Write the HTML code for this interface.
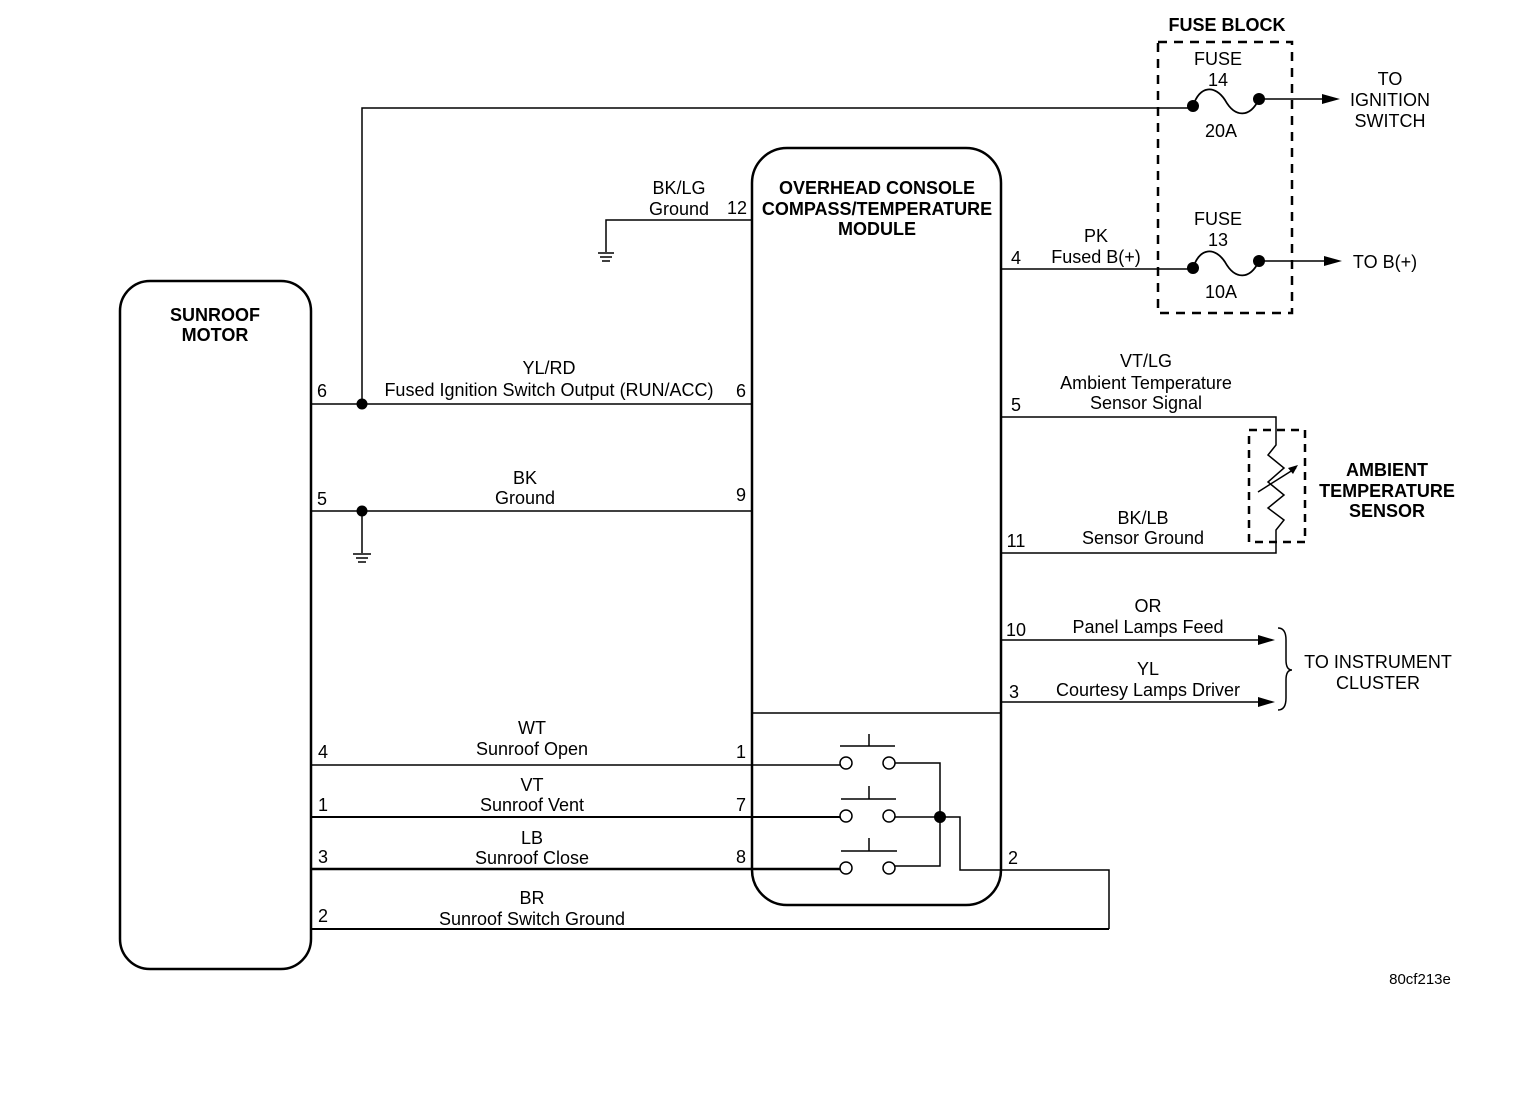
<!DOCTYPE html>
<html><head><style>
html,body{margin:0;padding:0;background:#fff;}
svg{display:block;}
text{font-family:"Liberation Sans",Arial,sans-serif;font-size:18px;fill:#000;}
.b{font-weight:bold;}
</style></head><body>
<svg width="1520" height="1098" viewBox="0 0 1520 1098" xmlns="http://www.w3.org/2000/svg">
<g fill="none" stroke="#000">
<rect x="120" y="281" width="191" height="688" rx="30" stroke-width="2.5"/>
<rect x="752" y="148" width="249" height="757" rx="35" stroke-width="2.5"/>
<line x1="752" y1="713" x2="1001" y2="713" stroke-width="1.5"/>
<rect x="1158" y="42" width="134" height="271" stroke-width="2.5" stroke-dasharray="9,7"/>
<polyline points="362,404 362,108 1193,108" stroke-width="1.5"/>
<path d="M1193,106 C1200,85 1215,85 1225,100 C1235,118 1250,118 1259,99" stroke-width="1.8"/>
<line x1="1259" y1="99" x2="1325" y2="99" stroke-width="1.5"/>
<line x1="1001" y1="269" x2="1193" y2="269" stroke-width="1.5"/>
<path d="M1193,268 C1200,247 1215,247 1225,262 C1235,280 1250,280 1259,261" stroke-width="1.8"/>
<line x1="1259" y1="261" x2="1327" y2="261" stroke-width="1.5"/>
<polyline points="752,220 606,220 606,252" stroke-width="1.5"/>
<line x1="598" y1="253" x2="614" y2="253" stroke-width="1.5"/>
<line x1="600" y1="257" x2="612" y2="257" stroke-width="1.5"/>
<line x1="602" y1="261" x2="610" y2="261" stroke-width="1.5"/>
<line x1="311" y1="404" x2="752" y2="404" stroke-width="1.5"/>
<line x1="311" y1="511" x2="752" y2="511" stroke-width="1.5"/>
<line x1="362" y1="511" x2="362" y2="553" stroke-width="1.5"/>
<line x1="353" y1="554" x2="371" y2="554" stroke-width="1.5"/>
<line x1="356" y1="558" x2="368" y2="558" stroke-width="1.5"/>
<line x1="358" y1="562" x2="366" y2="562" stroke-width="1.5"/>
<polyline points="1001,417 1276,417 1276,445 1268,455 1284,468 1268,482 1284,495 1268,508 1284,520 1276,530 1276,553 1001,553" stroke-width="1.5"/>
<line x1="1258" y1="492" x2="1296" y2="468" stroke-width="1.5"/>
<rect x="1249" y="430" width="56" height="112" stroke-width="2.5" stroke-dasharray="8,6"/>
<line x1="1001" y1="640" x2="1262" y2="640" stroke-width="1.5"/>
<line x1="1001" y1="702" x2="1262" y2="702" stroke-width="1.5"/>
<path d="M1278,628 Q1286,628 1286,640 L1286,660 Q1286,670 1292,670 Q1286,670 1286,680 L1286,698 Q1286,710 1278,710" stroke-width="1.5"/>
<line x1="311" y1="765" x2="840" y2="765" stroke-width="1.5"/>
<line x1="311" y1="817" x2="840" y2="817" stroke-width="2"/>
<line x1="311" y1="869" x2="840" y2="869" stroke-width="2.5"/>
<line x1="311" y1="929" x2="1109" y2="929" stroke-width="2"/>
<polyline points="1109,929 1109,870 960,870 960,817 940,817" stroke-width="1.5"/>
<polyline points="895,763 940,763 940,866 895,866" stroke-width="1.5"/>
<line x1="895" y1="817" x2="940" y2="817" stroke-width="1.5"/>
<g stroke-width="1.5">
<circle cx="846" cy="763" r="6" fill="#fff"/><circle cx="889" cy="763" r="6" fill="#fff"/>
<circle cx="846" cy="816" r="6" fill="#fff"/><circle cx="889" cy="816" r="6" fill="#fff"/>
<circle cx="846" cy="868" r="6" fill="#fff"/><circle cx="889" cy="868" r="6" fill="#fff"/>
<line x1="840" y1="746" x2="895" y2="746"/><line x1="869" y1="734" x2="869" y2="746"/>
<line x1="841" y1="799" x2="896" y2="799"/><line x1="869" y1="786" x2="869" y2="799"/>
<line x1="841" y1="851" x2="897" y2="851"/><line x1="869" y1="838" x2="869" y2="851"/>
</g>
</g>
<g fill="#000">
<circle cx="362" cy="404" r="5.5"/><circle cx="362" cy="511" r="5.5"/>
<circle cx="1193" cy="106" r="6"/><circle cx="1259" cy="99" r="6"/>
<circle cx="1193" cy="268" r="6"/><circle cx="1259" cy="261" r="6"/>
<circle cx="940" cy="817" r="6"/>
<polygon points="1340,99 1322,94 1322,104"/>
<polygon points="1342,261 1324,256 1324,266"/>
<polygon points="1275,640 1258,635 1258,645"/>
<polygon points="1275,702 1258,697 1258,707"/>
<polygon points="1298,465 1288,468 1293,474"/>
</g>
<text class="b" x="1227" y="31" text-anchor="middle">FUSE BLOCK</text>
<text x="1218" y="65" text-anchor="middle">FUSE</text>
<text x="1218" y="86" text-anchor="middle">14</text>
<text x="1221" y="137" text-anchor="middle">20A</text>
<text x="1218" y="225" text-anchor="middle">FUSE</text>
<text x="1218" y="246" text-anchor="middle">13</text>
<text x="1221" y="298" text-anchor="middle">10A</text>
<text x="1390" y="85" text-anchor="middle">TO</text>
<text x="1390" y="106" text-anchor="middle">IGNITION</text>
<text x="1390" y="127" text-anchor="middle">SWITCH</text>
<text x="1385" y="268" text-anchor="middle">TO B(+)</text>
<text class="b" x="877" y="194" text-anchor="middle">OVERHEAD CONSOLE</text>
<text class="b" x="877" y="215" text-anchor="middle">COMPASS/TEMPERATURE</text>
<text class="b" x="877" y="235" text-anchor="middle">MODULE</text>
<text class="b" x="215" y="321" text-anchor="middle">SUNROOF</text>
<text class="b" x="215" y="341" text-anchor="middle">MOTOR</text>
<text x="679" y="194" text-anchor="middle">BK/LG</text>
<text x="679" y="215" text-anchor="middle">Ground</text>
<text x="737" y="214" text-anchor="middle">12</text>
<text x="1096" y="242" text-anchor="middle">PK</text>
<text x="1096" y="263" text-anchor="middle">Fused B(+)</text>
<text x="1016" y="264" text-anchor="middle">4</text>
<text x="549" y="374" text-anchor="middle">YL/RD</text>
<text x="549" y="396" text-anchor="middle">Fused Ignition Switch Output (RUN/ACC)</text>
<text x="322" y="397" text-anchor="middle">6</text>
<text x="741" y="397" text-anchor="middle">6</text>
<text x="525" y="484" text-anchor="middle">BK</text>
<text x="525" y="504" text-anchor="middle">Ground</text>
<text x="322" y="505" text-anchor="middle">5</text>
<text x="741" y="501" text-anchor="middle">9</text>
<text x="1146" y="367" text-anchor="middle">VT/LG</text>
<text x="1146" y="389" text-anchor="middle">Ambient Temperature</text>
<text x="1146" y="409" text-anchor="middle">Sensor Signal</text>
<text x="1016" y="411" text-anchor="middle">5</text>
<text class="b" x="1387" y="476" text-anchor="middle">AMBIENT</text>
<text class="b" x="1387" y="497" text-anchor="middle">TEMPERATURE</text>
<text class="b" x="1387" y="517" text-anchor="middle">SENSOR</text>
<text x="1143" y="524" text-anchor="middle">BK/LB</text>
<text x="1143" y="544" text-anchor="middle">Sensor Ground</text>
<text x="1016" y="547" text-anchor="middle">11</text>
<text x="1148" y="612" text-anchor="middle">OR</text>
<text x="1148" y="633" text-anchor="middle">Panel Lamps Feed</text>
<text x="1016" y="636" text-anchor="middle">10</text>
<text x="1148" y="675" text-anchor="middle">YL</text>
<text x="1148" y="696" text-anchor="middle">Courtesy Lamps Driver</text>
<text x="1014" y="698" text-anchor="middle">3</text>
<text x="1378" y="668" text-anchor="middle">TO INSTRUMENT</text>
<text x="1378" y="689" text-anchor="middle">CLUSTER</text>
<text x="532" y="734" text-anchor="middle">WT</text>
<text x="532" y="755" text-anchor="middle">Sunroof Open</text>
<text x="323" y="758" text-anchor="middle">4</text>
<text x="741" y="758" text-anchor="middle">1</text>
<text x="532" y="791" text-anchor="middle">VT</text>
<text x="532" y="811" text-anchor="middle">Sunroof Vent</text>
<text x="323" y="811" text-anchor="middle">1</text>
<text x="741" y="811" text-anchor="middle">7</text>
<text x="532" y="844" text-anchor="middle">LB</text>
<text x="532" y="864" text-anchor="middle">Sunroof Close</text>
<text x="323" y="863" text-anchor="middle">3</text>
<text x="741" y="863" text-anchor="middle">8</text>
<text x="1013" y="864" text-anchor="middle">2</text>
<text x="532" y="904" text-anchor="middle">BR</text>
<text x="532" y="925" text-anchor="middle">Sunroof Switch Ground</text>
<text x="323" y="922" text-anchor="middle">2</text>
<text x="1420" y="984" text-anchor="middle" style="font-size:15px">80cf213e</text>
</svg>
</body></html>
